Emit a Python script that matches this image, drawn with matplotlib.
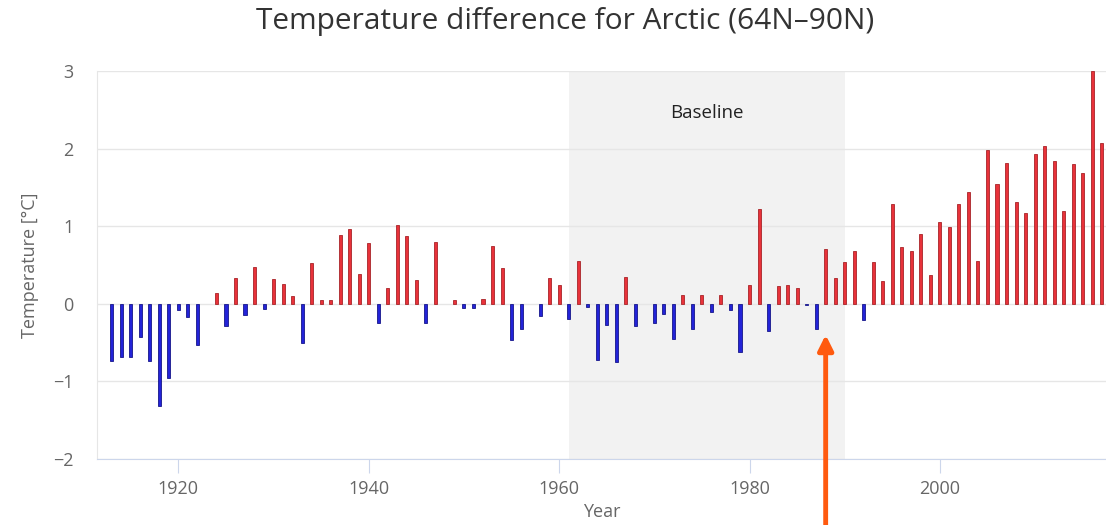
import numpy as np
import matplotlib
matplotlib.use("Agg")
import matplotlib.pyplot as plt

plt.rcParams['font.family'] = ['Open Sans', 'DejaVu Sans']

# Yearly temperature anomaly for the Arctic (64N-90N), relative to 1961-1990
years = list(range(1913, 2018))
anomaly = [
    -0.74, -0.68, -0.68, -0.43, -0.74, -1.32, -0.96, -0.08, -0.17, -0.53,   # 1913-1922
    0.00, 0.14, -0.28, 0.33, -0.15, 0.47, -0.07, 0.32, 0.26, 0.10,         # 1923-1932
    -0.51, 0.52, 0.05, 0.05, 0.89, 0.97, 0.39, 0.78, -0.25, 0.20,          # 1933-1942
    1.01, 0.87, 0.31, -0.25, 0.79, 0.00, 0.05, -0.05, -0.05, 0.06,         # 1943-1952
    0.74, 0.46, -0.47, -0.33, 0.00, -0.16, 0.33, 0.24, -0.20, 0.55,        # 1953-1962
    -0.04, -0.72, -0.27, -0.75, 0.35, -0.29, 0.00, -0.25, -0.13, -0.46,    # 1963-1972
    0.11, -0.32, 0.11, -0.11, 0.11, -0.08, -0.62, 0.24, 1.22, -0.35,       # 1973-1982
    0.23, 0.24, 0.21, -0.02, -0.32, 0.70, 0.33, 0.54, 0.68, -0.21,         # 1983-1992
    0.54, 0.29, 1.28, 0.73, 0.68, 0.90, 0.37, 1.05, 0.99, 1.28,            # 1993-2002
    1.44, 0.55, 1.98, 1.55, 1.82, 1.31, 1.17, 1.93, 2.03, 1.84,            # 2003-2012
    1.19, 1.80, 1.68, 3.00, 2.07,                                          # 2013-2017
]
baseline_start, baseline_end = 1961, 1990
marked_year = 1988

warm_color, warm_edge = '#e8323a', '#a82428'
cold_color, cold_edge = '#2323d8', '#16168a'

fig = plt.figure(figsize=(11.06, 5.25), dpi=100)
ax = fig.add_axes([97 / 1106, 66 / 525, 1009 / 1106, 388 / 525])

# Baseline period band
ax.axvspan(baseline_start, baseline_end, color='#f2f2f2', zorder=0, lw=0)
ax.text((baseline_start + baseline_end) / 2, 2.46, 'Baseline', ha='center', va='center',
        fontsize=13.5, color='#222222')

colors = [warm_color if v >= 0 else cold_color for v in anomaly]
# no outline on empty years, otherwise a stray dash shows up on the zero line
edges = ['none' if v == 0 else (warm_edge if v > 0 else cold_edge) for v in anomaly]
ax.bar(years, anomaly, width=0.32, color=colors, edgecolor=edges, linewidth=0.6, zorder=3)

ax.set_xlim(1911.45, 2017.45)
ax.set_ylim(-2, 3)
ax.set_yticks(range(-2, 4))
ax.set_xticks(range(1920, 2001, 20))

ax.grid(axis='y', color='#e6e6e6', linewidth=1, zorder=1)
for side in ['top', 'right']:
    ax.spines[side].set_visible(False)
ax.spines['left'].set_color('#e6e6e6')
ax.spines['bottom'].set_color('#ccd6eb')
ax.tick_params(axis='y', length=0, pad=17, labelsize=13, labelcolor='#666666')
ax.tick_params(axis='x', length=10, color='#ccd6eb', pad=5, labelsize=13,
               labelcolor='#666666')

ax.set_ylabel('Temperature [°C]', fontsize=13, color='#666666')
ax.yaxis.set_label_coords(-(97 - 39) / 1009, 0.5)
ax.set_xlabel('Year', fontsize=13, color='#666666')
ax.xaxis.set_label_coords(0.5, -(503 - 459) / 388)

fig.text(565 / 1106, 1 - 22 / 525, 'Temperature difference for Arctic (64N\u201390N)',
         ha='center', va='center', fontsize=21.5, color='#333333')

# Arrow pointing at the marked year
ax.annotate('', xy=(marked_year, -0.40), xycoords='data',
            xytext=(marked_year, -2.9), textcoords='data',
            arrowprops=dict(arrowstyle='-|>,head_length=0.9,head_width=0.45',
                            color='#ff5a0f', lw=3.5, shrinkA=0, shrinkB=0),
            annotation_clip=False, zorder=5)

fig.savefig('out.png', dpi=100)
